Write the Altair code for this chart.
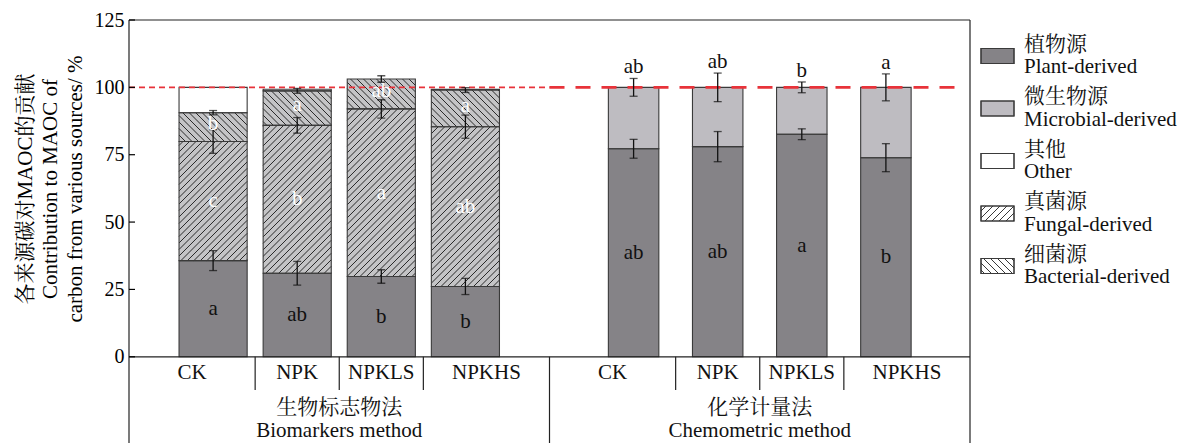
import altair as alt
import pandas as pd
import numpy as np

# ---------------- data ----------------
treatments = ["CK", "NPK", "NPKLS", "NPKHS"]
method_cn = ["生物标志物法", "化学计量法"]
method_en = ["Biomarkers method", "Chemometric method"]

# Biomarkers method (stacked %)
bio_plant = [35.7, 31.0, 29.8, 26.1]
bio_plant_err = [3.7, 4.4, 2.5, 3.0]
bio_fungal = [44.2, 54.9, 62.2, 59.3]
bio_fungal_err = [4.4, 2.9, 3.4, 4.3]
bio_bacterial = [10.7, 12.8, 11.1, 13.6]
bio_bacterial_err = [0.8, 0.9, 1.2, 0.9]
bio_other = [9.4, 0.6, 0.0, 0.3]
bio_plant_letters = ["a", "ab", "b", "b"]
bio_fungal_letters = ["c", "b", "a", "ab"]
bio_bacterial_letters = ["b", "a", "ab", "a"]

# Chemometric method
chem_plant = [77.2, 78.0, 82.6, 73.9]
chem_plant_err = [3.5, 5.6, 2.0, 5.2]
chem_microbial = [22.8, 22.0, 17.4, 26.1]
chem_microbial_err = [3.3, 5.3, 2.0, 5.0]
chem_plant_letters = ["ab", "ab", "a", "b"]
chem_microbial_letters = ["ab", "ab", "b", "a"]

legend_cn = ["植物源", "微生物源", "其他", "真菌源", "细菌源"]
legend_en = ["Plant-derived", "Microbial-derived", "Other", "Fungal-derived", "Bacterial-derived"]

y_title = ["各来源碳对MAOC的贡献", "Contribution to MAOC of", "carbon from various sources/ %"]
y_tick_values = [0, 25, 50, 75, 100, 125]

# ---------------- layout / style ----------------
W, H = 841, 423
X_MAX = 10.0
Y_MIN, Y_MAX = -32.0, 125.0
SX = W / X_MAX
SY = H / (Y_MAX - Y_MIN)
PLOT_LEFT, PLOT_TOP = 129, 20

SERIF = "Liberation Serif, Times New Roman, Noto Serif CJK SC, Noto Sans CJK SC, serif"
C_PLANT = "#858387"
C_MICRO = "#bebcc1"
C_HATCHBG = "#c4c4c6"
C_EDGE = "#3a3a3a"
C_RED = "#e8333a"
FS = 21


def px_to_x(px_abs):
    return (px_abs - PLOT_LEFT) / SX


def py_to_y(py_abs):
    return Y_MAX - (py_abs - PLOT_TOP) / SY


def hatch_px(X0, X1, Y0, Y1, direction, step=6.5):
    """diagonal hatch segments inside pixel rect (plot-relative), Y0 top < Y1 bottom"""
    out = []
    if direction == "fwd":  # '/'  x + y = c
        k0, k1 = int(np.floor((X0 + Y0) / step)), int(np.ceil((X1 + Y1) / step))
        for k in range(k0, k1 + 1):
            c = k * step
            xa, xb = max(X0, c - Y1), min(X1, c - Y0)
            if xb - xa > 0.4:
                out.append((xa, c - xa, xb, c - xb))
    else:  # '\'  x - y = c
        k0, k1 = int(np.floor((X0 - Y1) / step)), int(np.ceil((X1 - Y0) / step))
        for k in range(k0, k1 + 1):
            c = k * step
            xa, xb = max(X0, c + Y0), min(X1, c + Y1)
            if xb - xa > 0.4:
                out.append((xa, xa - c, xb, xb - c))
    return out


segs, hatch_rows, err_rows, cap_rows, txt_rows, top_txt = [], [], [], [], [], []


def add_seg(xc, w, v0, v1, fill, hdir=None):
    x0, x1 = xc - w / 2, xc + w / 2
    segs.append(dict(x=x0, x2=x1, y=v0, y2=v1, fill=fill))
    if hdir:
        for (a, b, c, d) in hatch_px(x0 * SX, x1 * SX, (Y_MAX - v1) * SY, (Y_MAX - v0) * SY, hdir):
            hatch_rows.append(dict(x=a / SX, y=Y_MAX - b / SY, x2=c / SX, y2=Y_MAX - d / SY))


def add_err(xc, v, e):
    err_rows.append(dict(x=xc, y=v - e, y2=v + e))
    cap_rows.append(dict(x=xc, y=v - e))
    cap_rows.append(dict(x=xc, y=v + e))


for i in range(4):
    xc, w = 1 + i, 0.81
    p, f, b, o = bio_plant[i], bio_fungal[i], bio_bacterial[i], bio_other[i]
    add_seg(xc, w, 0, p, C_PLANT)
    add_seg(xc, w, p, p + f, C_HATCHBG, "fwd")
    add_seg(xc, w, p + f, p + f + b, C_HATCHBG, "bwd")
    if o > 0:
        add_seg(xc, w, p + f + b, p + f + b + o, "#ffffff")
    add_err(xc, p, bio_plant_err[i])
    add_err(xc, p + f, bio_fungal_err[i])
    add_err(xc, p + f + b, bio_bacterial_err[i])
    txt_rows.append(dict(x=xc, y=p / 2, t=bio_plant_letters[i], c="#111111"))
    txt_rows.append(dict(x=xc, y=p + f / 2, t=bio_fungal_letters[i], c="#ffffff"))
    txt_rows.append(dict(x=xc, y=p + f + b / 2 + 1, t=bio_bacterial_letters[i], c="#ffffff"))

for i in range(4):
    xc, w = 6 + i, 0.6
    p, m = chem_plant[i], chem_microbial[i]
    add_seg(xc, w, 0, p, C_PLANT)
    add_seg(xc, w, p, p + m, C_MICRO)
    add_err(xc, p, chem_plant_err[i])
    add_err(xc, p + m, chem_microbial_err[i])
    txt_rows.append(dict(x=xc, y=p / 2, t=chem_plant_letters[i], c="#111111"))
    top_txt.append(dict(x=xc, y=p + m + chem_microbial_err[i], t=chem_microbial_letters[i]))

seg_df = pd.DataFrame(segs)
hatch_df = pd.DataFrame(hatch_rows)
err_df = pd.DataFrame(err_rows)
cap_df = pd.DataFrame(cap_rows)
txt_df = pd.DataFrame(txt_rows)
top_df = pd.DataFrame(top_txt)

# category / group labels (x-axis area)
cat_centers = [0.75, 2.0, 3.0, 4.25, 5.75, 7.0, 8.0, 9.25]
cat_df = pd.DataFrame(dict(x=cat_centers, y=py_to_y(373), t=treatments * 2))
grp_df = pd.DataFrame(dict(x=[2.5, 7.5, 2.5, 7.5],
                           y=[py_to_y(408)] * 2 + [py_to_y(431)] * 2,
                           t=method_cn + method_en))

# frame & separators
short_sep = [1.5, 2.5, 3.5, 6.5, 7.5, 8.5]
lines_df = pd.DataFrame(
    [dict(x=0, x2=X_MAX, y=Y_MAX, y2=Y_MAX), dict(x=0, x2=X_MAX, y=0, y2=0),
     dict(x=X_MAX, x2=X_MAX, y=Y_MIN, y2=Y_MAX), dict(x=5, x2=5, y=Y_MIN, y2=0),
     dict(x=0, x2=0, y=Y_MIN, y2=Y_MAX)]
    + [dict(x=s, x2=s, y=py_to_y(390), y2=0) for s in short_sep])
tick_df = pd.DataFrame(dict(y=y_tick_values))

# legend (drawn in the right padding)
leg_fill = [C_PLANT, C_MICRO, "#ffffff", "#ffffff", "#ffffff"]
leg_hatch = [None, None, None, "fwd", "bwd"]
leg_sw, leg_h, leg_t = [], [], []
for i in range(5):
    cy = 56 + 52.5 * i
    x0, x1, y0, y1 = 981, 1014, cy - 7.5, cy + 7.5
    leg_sw.append(dict(x=px_to_x(x0), x2=px_to_x(x1), y=py_to_y(y1), y2=py_to_y(y0), fill=leg_fill[i]))
    if leg_hatch[i]:
        for (a, b, c, d) in hatch_px(x0 - PLOT_LEFT, x1 - PLOT_LEFT, y0 - PLOT_TOP, y1 - PLOT_TOP,
                                     leg_hatch[i], step=7):
            leg_h.append(dict(x=a / SX, y=Y_MAX - b / SY, x2=c / SX, y2=Y_MAX - d / SY))
    leg_t.append(dict(x=px_to_x(1024), y=py_to_y(44.5 + 52.5 * i), t=legend_cn[i]))
    leg_t.append(dict(x=px_to_x(1024), y=py_to_y(67 + 52.5 * i), t=legend_en[i]))
leg_sw_df, leg_h_df, leg_t_df = pd.DataFrame(leg_sw), pd.DataFrame(leg_h), pd.DataFrame(leg_t)

# ---------------- chart ----------------
XS = alt.Scale(domain=[0, X_MAX], nice=False, zero=False)
YS = alt.Scale(domain=[Y_MIN, Y_MAX], nice=False, zero=False)

y_axis = alt.Axis(values=y_tick_values, ticks=False, tickSize=0, grid=False,
                  labelFont=SERIF, labelFontSize=20, labelColor="black", labelPadding=5,
                  domain=False,
                  title=y_title, titleFont=SERIF, titleFontSize=FS, titleFontWeight="normal",
                  titleColor="black", titleAngle=270, titleX=-104, titleY=168.5,
                  titleBaseline="middle", titleLineHeight=25)

X = alt.X("x:Q", scale=XS, axis=None)
Y = alt.Y("y:Q", scale=YS, axis=y_axis)

bars = alt.Chart(seg_df).mark_rect(strokeWidth=0).encode(
    x=X, x2="x2:Q", y=Y, y2="y2:Q", fill=alt.Fill("fill:N", scale=None))
hatch = alt.Chart(hatch_df).mark_rule(color="#222222", strokeWidth=0.95).encode(
    x=X, y=Y, x2="x2:Q", y2="y2:Q")
outline = alt.Chart(seg_df).mark_rect(fillOpacity=0, stroke=C_EDGE, strokeWidth=1.1).encode(
    x=X, x2="x2:Q", y=Y, y2="y2:Q")

red_thin = alt.Chart(pd.DataFrame(dict(x=[0.0], x2=[5.0], y=[100.0]))).mark_rule(
    color=C_RED, strokeWidth=1.6, strokeDash=[6, 4]).encode(x=X, x2="x2:Q", y=Y)
red_thick = alt.Chart(pd.DataFrame(dict(x=[5.0], x2=[px_to_x(960)], y=[100.0]))).mark_rule(
    color=C_RED, strokeWidth=2.8, strokeDash=[15, 11]).encode(x=X, x2="x2:Q", y=Y)

errs = alt.Chart(err_df).mark_rule(color="#111111", strokeWidth=1.3).encode(x=X, y=Y, y2="y2:Q")
caps = alt.Chart(cap_df).mark_tick(color="#111111", orient="horizontal", size=8,
                                   thickness=1.3).encode(x=X, y=Y)

letters = alt.Chart(txt_df).mark_text(font=SERIF, fontSize=FS, baseline="middle").encode(
    x=X, y=Y, text="t:N", color=alt.Color("c:N", scale=None))
top_letters = alt.Chart(top_df).mark_text(font=SERIF, fontSize=FS, baseline="bottom",
                                          dy=-1, color="#111111").encode(x=X, y=Y, text="t:N")

frame = alt.Chart(lines_df).mark_rule(color="#222222", strokeWidth=1.2).encode(
    x=X, x2="x2:Q", y=Y, y2="y2:Q")
yticks = alt.Chart(tick_df).mark_rule(color="black", strokeWidth=1.2).encode(
    x=alt.value(0), x2=alt.value(6), y=Y)
cats = alt.Chart(cat_df).mark_text(font=SERIF, fontSize=FS, baseline="middle",
                                   color="#111111").encode(x=X, y=Y, text="t:N")
grps = alt.Chart(grp_df).mark_text(font=SERIF, fontSize=FS, baseline="middle",
                                   color="#111111").encode(x=X, y=Y, text="t:N")

leg_rect = alt.Chart(leg_sw_df).mark_rect(stroke=C_EDGE, strokeWidth=1.1).encode(
    x=X, x2="x2:Q", y=Y, y2="y2:Q", fill=alt.Fill("fill:N", scale=None))
leg_hatch_l = alt.Chart(leg_h_df).mark_rule(color="#222222", strokeWidth=0.9).encode(
    x=X, y=Y, x2="x2:Q", y2="y2:Q")
leg_rect2 = alt.Chart(leg_sw_df).mark_rect(fillOpacity=0, stroke=C_EDGE, strokeWidth=1.1).encode(
    x=X, x2="x2:Q", y=Y, y2="y2:Q")
leg_text = alt.Chart(leg_t_df).mark_text(font=SERIF, fontSize=FS, align="left", baseline="middle",
                                         color="#111111").encode(x=X, y=Y, text="t:N")

chart = alt.layer(
    bars, hatch, outline, red_thin, red_thick, errs, caps, letters, top_letters,
    frame, yticks, cats, grps, leg_rect, leg_hatch_l, leg_rect2, leg_text
).properties(
    width=W, height=H,
    autosize=alt.AutoSizeParams(type="none"),
    padding={"left": PLOT_LEFT - 8, "top": PLOT_TOP - 8, "right": 1171 - (PLOT_LEFT - 8) - W, "bottom": 0},
    background="white",
).configure_view(stroke=None)

chart.save("out.html", embed_options={"renderer": "svg", "actions": False})
